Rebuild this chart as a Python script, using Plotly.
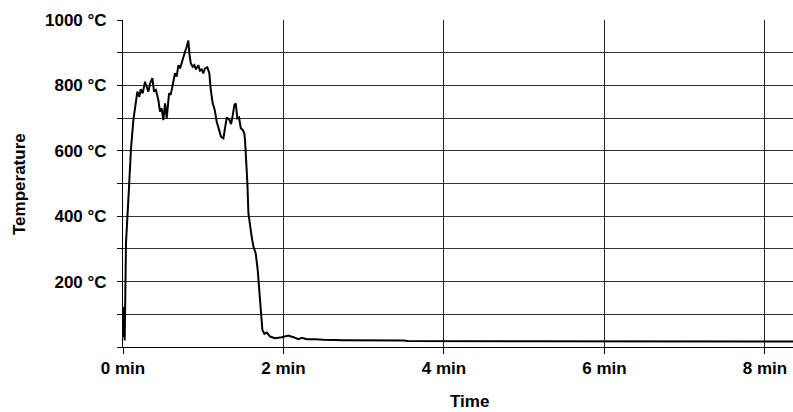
import plotly.graph_objects as go

# time in minutes, temperature in °C
time_min = [0, 0.012, 0.021, 0.037, 0.066, 0.087, 0.100, 0.129, 0.150, 0.179,
            0.204, 0.220, 0.245, 0.274, 0.295, 0.316, 0.337, 0.366, 0.387, 0.411,
            0.441, 0.461, 0.482, 0.503, 0.524, 0.545, 0.574, 0.594, 0.619, 0.648,
            0.669, 0.690, 0.711, 0.732, 0.752, 0.773, 0.794, 0.814, 0.827, 0.844,
            0.869, 0.889, 0.910, 0.939, 0.960, 0.981, 1.001, 1.022, 1.051, 1.076,
            1.094, 1.118, 1.143, 1.168, 1.197, 1.222, 1.251, 1.272, 1.293, 1.322,
            1.347, 1.368, 1.388, 1.405, 1.425, 1.446, 1.468, 1.493, 1.512, 1.521,
            1.534, 1.550, 1.563, 1.584, 1.604, 1.625, 1.654, 1.679, 1.700, 1.717,
            1.737, 1.762, 1.792, 1.833, 1.895, 1.979, 2.061, 2.124, 2.186, 2.228,
            2.290, 2.394, 2.5, 2.75, 3.0, 3.25, 3.5, 3.55, 4.0, 5.0,
            6.0, 7.0, 8.0, 8.35]
temperature = [30, 122, 20, 317, 448, 560, 608, 694, 730, 781,
               765, 788, 776, 811, 796, 781, 806, 822, 781, 786,
               755, 720, 730, 694, 745, 699, 776, 771, 801, 837,
               827, 862, 852, 872, 883, 903, 918, 937, 898, 868,
               857, 862, 849, 862, 845, 849, 837, 852, 855, 837,
               786, 745, 725, 689, 664, 643, 638, 669, 702, 696,
               682, 709, 740, 745, 699, 702, 669, 664, 653, 633,
               582, 501, 409, 368, 337, 307, 286, 235, 174, 103,
               52, 40, 44, 32, 27, 30, 35, 30, 24, 28,
               24, 24, 22, 21, 21, 20, 20, 18, 18, 18,
               17, 17, 17, 17]

x_tick_vals = [0, 2, 4, 6, 8]
x_tick_text = ["0 min", "2 min", "4 min", "6 min", "8 min"]
y_tick_vals = [0, 100, 200, 300, 400, 500, 600, 700, 800, 900, 1000]
y_tick_text = ["", "", "200 °C", "", "400 °C", "", "600 °C", "", "800 °C", "", "1000 °C"]

FONT = "Liberation Sans, Arial, sans-serif"

fig = go.Figure()
fig.add_trace(go.Scatter(x=time_min, y=temperature, mode="lines",
                         line=dict(color="black", width=2), showlegend=False))

fig.update_layout(
    width=793, height=412,
    margin=dict(l=123, r=0, t=20, b=65),
    paper_bgcolor="white", plot_bgcolor="white",
    font=dict(family=FONT, size=17, color="black"),
    xaxis=dict(range=[0, 8.35], tickvals=x_tick_vals, ticktext=x_tick_text,
               showgrid=True, gridcolor="#222", gridwidth=1,
               showline=True, linecolor="black", linewidth=1,
               ticks="outside", ticklen=6, tickcolor="black",
               zeroline=False, tickfont=dict(family=FONT, size=17, weight="bold")),
    yaxis=dict(range=[0, 1000], tickvals=y_tick_vals, ticktext=y_tick_text,
               showgrid=True, gridcolor="#333", gridwidth=1,
               showline=True, linecolor="black", linewidth=1,
               ticks="outside", ticklen=5, tickcolor="black",
               zeroline=False, ticklabelstandoff=7,
               tickfont=dict(family=FONT, size=17, weight="bold")),
    annotations=[
        dict(text="<b>Temperature</b>", xref="paper", yref="paper",
             x=(20 - 123) / 670, y=(347 - 184) / 327, xanchor="center", yanchor="middle",
             textangle=-90, showarrow=False, font=dict(family=FONT, size=17)),
        dict(text="<b>Time</b>", xref="paper", yref="paper",
             x=(469 - 123) / 670, y=(347 - 401.5) / 327, xanchor="center", yanchor="middle",
             showarrow=False, font=dict(family=FONT, size=17)),
    ],
)

fig.write_html(
    "out.html",
    config={"displayModeBar": False},
    post_script="document.body.style.margin='0';document.body.style.overflow='hidden';"
                "document.documentElement.style.overflow='hidden';",
)
